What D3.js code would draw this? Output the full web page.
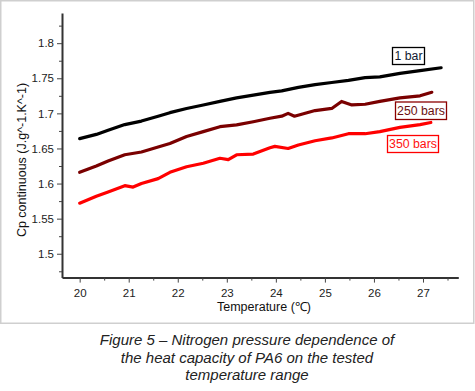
<!DOCTYPE html>
<html><head><meta charset="utf-8">
<script src="https://cdn.jsdelivr.net/npm/d3@7"></script>
<style>
html,body{margin:0;padding:0;background:#fff;}
svg{display:block;}
text{font-family:Arial,"Liberation Sans",sans-serif;}
</style></head>
<body>
<script>
// ---- data ----
const temp1 = [20.00,20.34,20.58,20.92,21.26,21.60,21.84,22.18,22.52,22.86,23.20,23.54,23.88,24.12,24.46,24.80,25.14,25.48,25.82,26.12,26.53,26.94,27.37];
const cp1   = [1.664,1.670,1.676,1.684,1.689,1.696,1.701,1.707,1.712,1.717,1.722,1.726,1.730,1.732,1.737,1.741,1.744,1.747,1.751,1.752,1.757,1.761,1.765];
const temp250 = [20.00,20.34,20.58,20.92,21.26,21.60,21.84,22.18,22.52,22.86,23.20,23.54,23.88,24.12,24.25,24.38,24.80,25.14,25.34,25.55,25.82,26.12,26.53,26.94,27.18];
const cp250   = [1.616,1.625,1.632,1.641,1.645,1.652,1.657,1.667,1.674,1.681,1.6835,1.688,1.693,1.696,1.700,1.696,1.704,1.707,1.717,1.712,1.713,1.717,1.722,1.725,1.730];
const temp350 = [20.00,20.34,20.58,20.92,21.09,21.26,21.60,21.84,22.18,22.52,22.86,23.03,23.20,23.54,23.88,23.98,24.25,24.46,24.80,25.14,25.48,25.82,26.12,26.53,26.94,27.16];
const cp350   = [1.572,1.582,1.588,1.597,1.595,1.600,1.607,1.616,1.624,1.629,1.636,1.634,1.641,1.642,1.651,1.653,1.650,1.655,1.661,1.665,1.671,1.671,1.674,1.680,1.684,1.687];
const seriesNames = ["1 bar","250 bars","350 bars"];
const xTicks = [20,21,22,23,24,25,26,27];
const yTicks = [1.5,1.55,1.6,1.65,1.7,1.75,1.8];
const xMinor = [20.5,21.5,22.5,23.5,24.5,25.5,26.5,27.5];
const yMinor = [1.475,1.525,1.575,1.625,1.675,1.725,1.775,1.825];
const xTitle = "Temperature (℃)";
const yTitle = "Cp continuous (J.g^-1.K^-1)";
const caption = ["Figure 5 – Nitrogen pressure dependence of","the heat capacity of PA6 on the tested","temperature range"];

// ---- layout ----
const W = 475, H = 391;
const svg = d3.select("body").append("svg").attr("width",W).attr("height",H);
svg.append("rect").attr("x",0.75).attr("y",0.75).attr("width",473).attr("height",322.5)
  .attr("fill","#fff").attr("stroke","#cfcfcf").attr("stroke-width",1.5);

const x = d3.scaleLinear().domain([19.64,27.72]).range([62,458.3]);
const y = d3.scaleLinear().domain([1.466,1.843]).range([277.6,13]);

// axes
const gx = svg.append("g").attr("transform","translate(0,277.6)");
gx.call(d3.axisBottom(x).tickValues(xTicks).tickFormat(d3.format("d")).tickSize(5).tickSizeOuter(0));
gx.append("g").call(d3.axisBottom(x).tickValues(xMinor).tickFormat("").tickSize(3).tickSizeOuter(0))
  .select(".domain").remove();
const gy = svg.append("g").attr("transform","translate(62,0)");
gy.call(d3.axisLeft(y).tickValues(yTicks).tickFormat(d=>String(d)).tickSize(5).tickSizeOuter(0));
gy.append("g").call(d3.axisLeft(y).tickValues(yMinor).tickFormat("").tickSize(3).tickSizeOuter(0))
  .select(".domain").remove();
svg.selectAll(".domain").attr("stroke","#333").attr("stroke-width",2);
svg.selectAll(".tick line").attr("stroke","#444").attr("stroke-width",1);
svg.selectAll(".tick text").attr("font-size",11.5).attr("fill","#222").attr("font-family","Arial, 'Liberation Sans', sans-serif");
gx.selectAll(".tick text").attr("dy","0.95em");

// titles
svg.append("text").attr("x",264).attr("y",311).attr("text-anchor","middle")
  .attr("font-size",12.5).attr("fill","#111").text(xTitle);
svg.append("text").attr("transform","translate(26,160) rotate(-90)").attr("text-anchor","middle")
  .attr("font-size",12.5).attr("fill","#111").text(yTitle);

// series
const data = [
  {t:temp1, v:cp1, color:"#000000"},
  {t:temp250, v:cp250, color:"#7a0000"},
  {t:temp350, v:cp350, color:"#ff0000"}
];
const line = d3.line().x(d=>x(d[0])).y(d=>y(d[1]));
data.forEach(s=>{
  const pts = s.t.map((t,i)=>[t,s.v[i]]);
  svg.append("path").datum(pts).attr("d",line).attr("fill","none")
    .attr("stroke",s.color).attr("stroke-width",3.2).attr("stroke-linejoin","round").attr("stroke-linecap","round");
});

// legend labels
const labels = [
  {x:392.5,y:47.5,w:32,h:17,stroke:"#000",fill:"#111a33"},
  {x:395.5,y:102,w:51,h:17.5,stroke:"#8b0000",fill:"#6b1010"},
  {x:387.5,y:135.5,w:51,h:17,stroke:"#ff0000",fill:"#ff1010"}
];
labels.forEach((l,i)=>{
  svg.append("rect").attr("x",l.x).attr("y",l.y).attr("width",l.w).attr("height",l.h)
    .attr("fill","#fff").attr("stroke",l.stroke).attr("stroke-width",1.3);
  svg.append("text").attr("x",l.x+l.w/2).attr("y",l.y+l.h/2+4.3).attr("text-anchor","middle")
    .attr("font-size",12.3).attr("fill",l.fill).text(seriesNames[i]);
});

// caption
caption.forEach((c,i)=>{
  svg.append("text").attr("x",247).attr("y",345+i*17.5).attr("text-anchor","middle")
    .attr("font-size",15).attr("font-style","italic").attr("fill","#222").text(c);
});
</script>
</body></html>
